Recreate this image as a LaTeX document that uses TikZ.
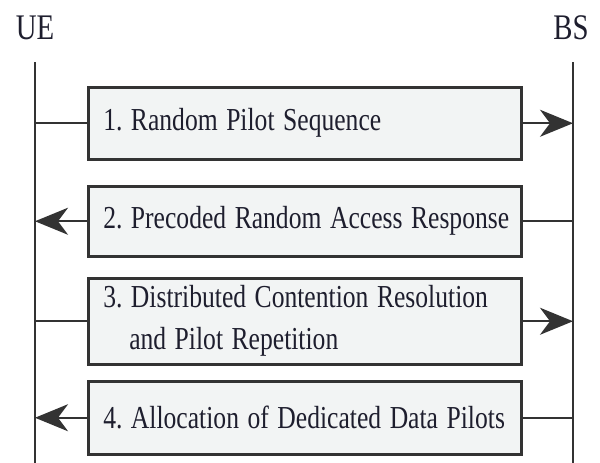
\documentclass[tikz,border=0pt]{standalone}
\usepackage{fontspec}
\usepackage{graphicx}
\setmainfont{Liberation Serif}
\usetikzlibrary{arrows.meta,positioning}
\definecolor{boxfill}{HTML}{F2F4F4}
\definecolor{boxline}{HTML}{333333}
\definecolor{inkcol}{HTML}{1E1E2E}
\newcommand{\narrow}[1]{\scalebox{0.80}[1]{#1}}

\begin{document}
\frenchspacing
\begin{tikzpicture}[x=1pt, y=-1pt,
    msgbox/.style={draw=boxline, line width=2.5pt, fill=boxfill, anchor=north west,
      minimum width=433pt, text width=403pt, inner xsep=15pt, inner ysep=0pt,
      align=left, font=\fontsize{32}{42}\selectfont, text=inkcol},
    party/.style={font=\fontsize{36}{40}\selectfont, text=inkcol, inner sep=0pt},
    lifeline/.style={line width=2pt, draw=boxline},
    msg/.style={line width=2pt, draw=boxline},
    tip/.style={-{Stealth[length=33pt, width=27pt, inset=10pt]}}]
    \useasboundingbox (0,0) rectangle (600,463);
    % parties
    \node[party] (ue) at (35,28) {\narrow{UE}};
    \node[party] (bs) at (571,28) {\narrow{BS}};
    % lifelines
    \coordinate (ue-top) at (35,62);
    \coordinate (ue-bot) at (35,463);
    \coordinate (bs-top) at (573,62);
    \coordinate (bs-bot) at (573,463);
    \draw[lifeline] (ue-top) -- (ue-bot);
    \draw[lifeline] (bs-top) -- (bs-bot);
    % message boxes
    \node[msgbox, minimum height=72pt] (step1) at (87,86)
    {\narrow{1. Random Pilot Sequence}};
    \node[msgbox, minimum height=70pt] (step2) at (87,185)
    {\narrow{2. Precoded Random Access Response}};
    \node[msgbox, minimum height=86pt] (step3) at (87,277)
    {\narrow{3. Distributed Contention Resolution}\\
     \hspace*{26pt}\narrow{and Pilot Repetition}};
    \node[msgbox, minimum height=73pt] (step4) at (87,380)
    {\narrow{4. Allocation of Dedicated Data Pilots}};
    % uplink messages
    \draw[msg] (step1.west -| ue-top) -- (step1.west);
    \draw[msg, tip] (step1.east) -- (step1.east -| bs-top);
    \draw[msg] (step3.west -| ue-top) -- (step3.west);
    \draw[msg, tip] (step3.east) -- (step3.east -| bs-top);
    % downlink messages
    \draw[msg, tip] (step2.west) -- (step2.west -| ue-top);
    \draw[msg] (step2.east) -- (step2.east -| bs-top);
    \draw[msg, tip] (step4.west) -- (step4.west -| ue-top);
    \draw[msg] (step4.east) -- (step4.east -| bs-top);
\end{tikzpicture}
\end{document}
